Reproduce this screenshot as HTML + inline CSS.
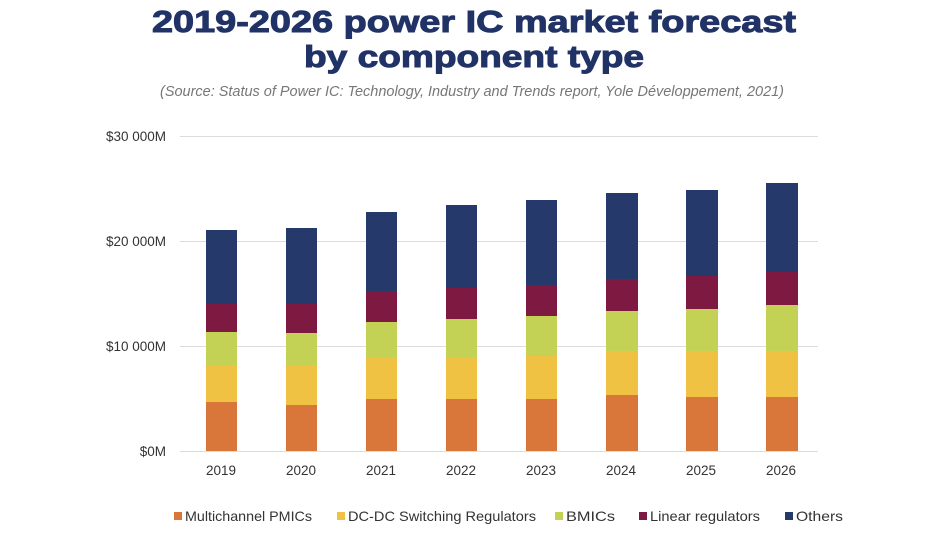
<!DOCTYPE html>
<html><head><meta charset="utf-8"><style>html,body{margin:0;padding:0;background:#fff}</style></head>
<body>
<svg width="929" height="530" xmlns="http://www.w3.org/2000/svg" font-family="Liberation Sans, sans-serif">
<text x="474" y="32" text-anchor="middle" font-size="31" font-weight="bold" fill="#213366" stroke="#213366" stroke-width="1" textLength="644" lengthAdjust="spacingAndGlyphs">2019-2026 power IC market forecast</text>
<text x="474" y="67" text-anchor="middle" font-size="31" font-weight="bold" fill="#213366" stroke="#213366" stroke-width="1" textLength="340" lengthAdjust="spacingAndGlyphs">by component type</text>
<text x="472" y="96" text-anchor="middle" font-size="15" font-style="italic" fill="#777" textLength="624" lengthAdjust="spacingAndGlyphs">(Source: Status of Power IC: Technology, Industry and Trends report, Yole Développement, 2021)</text>
<g stroke="#dcdcdc" stroke-width="1">
<line x1="180" y1="136.5" x2="818" y2="136.5"/>
<line x1="180" y1="241.5" x2="818" y2="241.5"/>
<line x1="180" y1="346.5" x2="818" y2="346.5"/>
<line x1="180" y1="451.5" x2="818" y2="451.5"/>
</g>
<g font-size="13.5" fill="#333" text-anchor="end">
<text x="166" y="141">$30 000M</text>
<text x="166" y="246">$20 000M</text>
<text x="166" y="351">$10 000M</text>
<text x="166" y="456">$0M</text>
</g>
<g font-size="13.5" fill="#333" text-anchor="middle">
<text x="221" y="475">2019</text><text x="301" y="475">2020</text><text x="381" y="475">2021</text><text x="461" y="475">2022</text>
<text x="541" y="475">2023</text><text x="621" y="475">2024</text><text x="701" y="475">2025</text><text x="781" y="475">2026</text>
</g>
<g font-size="14" fill="#333">
<rect x="174" y="512" width="8" height="8" fill="#d9773a"/><text x="185" y="521" textLength="127" lengthAdjust="spacingAndGlyphs">Multichannel PMICs</text>
<rect x="337" y="512" width="8" height="8" fill="#efc244"/><text x="348" y="521" textLength="188" lengthAdjust="spacingAndGlyphs">DC-DC Switching Regulators</text>
<rect x="555" y="512" width="8" height="8" fill="#c3d155"/><text x="566" y="521" textLength="49" lengthAdjust="spacingAndGlyphs">BMICs</text>
<rect x="639" y="512" width="8" height="8" fill="#7e1a42"/><text x="650" y="521" textLength="110" lengthAdjust="spacingAndGlyphs">Linear regulators</text>
<rect x="785" y="512" width="8" height="8" fill="#253a6a"/><text x="796" y="521" textLength="47" lengthAdjust="spacingAndGlyphs">Others</text>
</g>
<g>
<rect x="206" y="230" width="31" height="74" fill="#253a6a"/><rect x="206" y="304" width="31" height="28" fill="#7e1a42"/><rect x="206" y="332" width="31" height="33" fill="#c3d155"/><rect x="206" y="365" width="31" height="37" fill="#efc244"/><rect x="206" y="402" width="31" height="49" fill="#d9773a"/>
<rect x="286" y="228" width="31" height="76" fill="#253a6a"/><rect x="286" y="304" width="31" height="29" fill="#7e1a42"/><rect x="286" y="333" width="31" height="32" fill="#c3d155"/><rect x="286" y="365" width="31" height="40" fill="#efc244"/><rect x="286" y="405" width="31" height="46" fill="#d9773a"/>
<rect x="366" y="212" width="31" height="79" fill="#253a6a"/><rect x="366" y="291" width="31" height="31" fill="#7e1a42"/><rect x="366" y="322" width="31" height="35" fill="#c3d155"/><rect x="366" y="357" width="31" height="42" fill="#efc244"/><rect x="366" y="399" width="31" height="52" fill="#d9773a"/>
<rect x="446" y="205" width="31" height="83" fill="#253a6a"/><rect x="446" y="288" width="31" height="31" fill="#7e1a42"/><rect x="446" y="319" width="31" height="38" fill="#c3d155"/><rect x="446" y="357" width="31" height="42" fill="#efc244"/><rect x="446" y="399" width="31" height="52" fill="#d9773a"/>
<rect x="526" y="200" width="31" height="85" fill="#253a6a"/><rect x="526" y="285" width="31" height="31" fill="#7e1a42"/><rect x="526" y="316" width="31" height="40" fill="#c3d155"/><rect x="526" y="356" width="31" height="43" fill="#efc244"/><rect x="526" y="399" width="31" height="52" fill="#d9773a"/>
<rect x="606" y="193" width="32" height="86" fill="#253a6a"/><rect x="606" y="279" width="32" height="32" fill="#7e1a42"/><rect x="606" y="311" width="32" height="40" fill="#c3d155"/><rect x="606" y="351" width="32" height="44" fill="#efc244"/><rect x="606" y="395" width="32" height="56" fill="#d9773a"/>
<rect x="686" y="190" width="32" height="86" fill="#253a6a"/><rect x="686" y="276" width="32" height="33" fill="#7e1a42"/><rect x="686" y="309" width="32" height="42" fill="#c3d155"/><rect x="686" y="351" width="32" height="46" fill="#efc244"/><rect x="686" y="397" width="32" height="54" fill="#d9773a"/>
<rect x="766" y="183" width="32" height="89" fill="#253a6a"/><rect x="766" y="272" width="32" height="33" fill="#7e1a42"/><rect x="766" y="305" width="32" height="46" fill="#c3d155"/><rect x="766" y="351" width="32" height="46" fill="#efc244"/><rect x="766" y="397" width="32" height="54" fill="#d9773a"/>
</g>
</svg>
</body></html>
